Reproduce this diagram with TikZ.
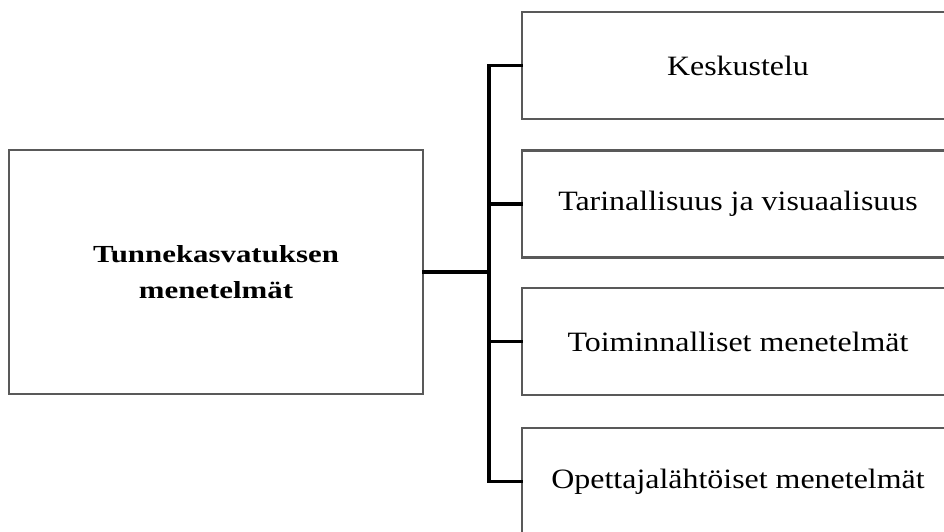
\documentclass[tikz,border=0pt]{standalone}
\usepackage{fontspec}
\setmainfont{Liberation Serif}[FakeStretch=1.14]
\newfontfamily\headfont{Liberation Serif}[FakeStretch=1.26]
\usepackage{tikz}

\begin{document}
\begin{tikzpicture}[x=1pt, y=-1pt,
    box/.style={draw=black!65, line width=2.2pt, fill=white, inner sep=0pt},
    sidebox/.style={box, minimum width=432pt, minimum height=107pt,
        font=\fontsize{28}{33}\selectfont},
    link/.style={line width=3.8pt, line join=miter, line cap=rect}]
    \useasboundingbox (0,0) rectangle (944,531);

    \node[box, minimum width=414pt, minimum height=244pt, align=center,
        font=\headfont\bfseries\fontsize{24.5}{36}\selectfont] (main) at (216,272)
        {Tunnekasvatuksen\\menetelmät};

    \node[sidebox] (b1) at (738,65.5) {Keskustelu};
    \node[sidebox] (b2) at (738,204) {Tarinallisuus ja visuaalisuus};
    \node[sidebox] (b3) at (738,341.5) {Toiminnalliset menetelmät};
    \node[sidebox] (b4) at (738,481.5) {Opettajalähtöiset menetelmät};

    \coordinate (trunk) at (489,272);

    \draw[link] (main.east) -- (trunk); % stem
    \draw[link] (b1.west) -| (trunk) |- (b4.west); % spine
    \draw[link] (b2.west) -- (b2.west -| trunk);
    \draw[link] (b3.west) -- (b3.west -| trunk);
\end{tikzpicture}
\end{document}
